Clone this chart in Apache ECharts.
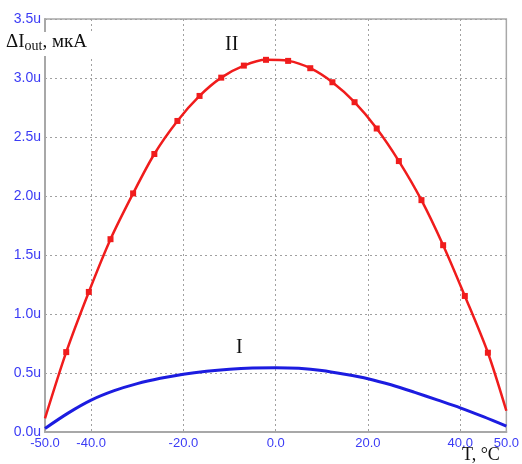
<!DOCTYPE html>
<html style="height: 100%">
<head>
	<meta charset="utf-8">
	<script src="https://cdn.jsdelivr.net/npm/echarts@6/dist/echarts.min.js"></script>
</head>
<body style="height: 100%; margin: 0; background: #fff">
	<div id="container" style="width: 522px; height: 464px"></div>
	<script type="text/javascript">
		// curve II (red, with markers), T in °C, dI in uA
		var tempII = [-50, -45.4, -40.5, -35.8, -30.9, -26.3, -21.3, -16.5, -11.8, -6.9, -2.1,
			2.7, 7.5, 12.3, 17.1, 21.9, 26.7, 31.6, 36.3, 41.0, 46.0, 50];
		var currII = [0.115, 0.677, 1.187, 1.634, 2.022, 2.356, 2.636, 2.848, 3.003, 3.105, 3.154,
			3.145, 3.083, 2.964, 2.795, 2.572, 2.296, 1.965, 1.583, 1.153, 0.672, 0.18];
		// curve I (blue)
		var tempI = [-50, -45, -40, -35, -30, -25, -20, -15, -10, -5, 0,
			5, 10, 15, 20, 25, 30, 35, 40, 45, 50];
		var currI = [0.03, 0.16, 0.27, 0.35, 0.41, 0.455, 0.49, 0.515, 0.532, 0.542, 0.545,
			0.54, 0.522, 0.49, 0.452, 0.40, 0.338, 0.272, 0.205, 0.13, 0.05];
		var xTicks = [-50, -40, -20, 0, 20, 40, 50];

		var dom = document.getElementById("container");
		var myChart = echarts.init(dom);

		var dataII = tempII.map(function(t, i) {
			var item = { value: [t, currII[i]] };
			if (i === 0 || i === tempII.length - 1) item.symbol = 'none';
			return item;
		});
		var dataI = tempI.map(function(t, i) {
			return [t, currI[i]];
		});

		var labelBlue = '#3b3bf5';
		var serif = '"Liberation Serif", "DejaVu Serif", serif';

		var option = {
			backgroundColor: '#ffffff',
			animation: false,
			grid: {
				left: 45,
				right: 9,
				top: 19,
				bottom: 32,
				show: true,
				borderColor: '#a8a8a8',
				borderWidth: 1.5
			},
			xAxis: {
				type: 'value',
				min: -50,
				max: 50,
				interval: 10,
				axisLine: { onZero: false, lineStyle: { color: '#a8a8a8', width: 2 } },
				axisTick: { show: false },
				axisLabel: {
					color: labelBlue,
					fontSize: 13,
					fontFamily: '"Liberation Sans", Arial, sans-serif',
					margin: 5,
					showMinLabel: true,
					showMaxLabel: true,
					formatter: function(v) {
						return xTicks.indexOf(v) >= 0 ? v.toFixed(1) : '';
					}
				},
				splitLine: {
					show: true,
					lineStyle: { color: ['rgba(0,0,0,0)', '#a0a0a0'], type: [2, 3], width: 1 }
				}
			},
			yAxis: {
				type: 'value',
				min: 0,
				max: 3.5,
				interval: 0.5,
				axisLine: { show: true, onZero: false, lineStyle: { color: '#a8a8a8', width: 2 } },
				axisTick: { show: false },
				axisLabel: {
					color: labelBlue,
					fontSize: 14,
					fontFamily: '"Liberation Sans", Arial, sans-serif',
					margin: 4,
					formatter: function(v) {
						return v.toFixed(1) + 'u';
					}
				},
				splitLine: {
					show: true,
					lineStyle: { color: '#a0a0a0', type: [2, 3], width: 1 }
				}
			},
			series: [{
				name: 'II',
				type: 'line',
				smooth: 0.3,
				data: dataII,
				symbol: 'rect',
				symbolSize: 6,
				lineStyle: { color: '#f01c1c', width: 2.5 },
				itemStyle: { color: '#f01c1c' },
				z: 3
			}, {
				name: 'I',
				type: 'line',
				smooth: 0.3,
				data: dataI,
				showSymbol: false,
				lineStyle: { color: '#1c1ce0', width: 3 },
				itemStyle: { color: '#1c1ce0' },
				z: 2
			}],
			graphic: [{
				type: 'rect',
				left: 4,
				top: 32,
				shape: { width: 92, height: 24 },
				style: { fill: '#ffffff' },
				z: 10
			}, {
				type: 'text',
				left: 6,
				top: 33,
				z: 11,
				style: {
					text: '{a|ΔI}{b|out}{a|, мкА}',
					rich: {
						a: { fontSize: 19, fontFamily: serif, fill: '#111' },
						b: { fontSize: 14, fontFamily: serif, fill: '#111', padding: [7, 0, 0, 0] }
					}
				}
			}, {
				type: 'text',
				left: 225,
				top: 35,
				z: 11,
				style: { text: 'II', fontSize: 20, fontFamily: serif, fill: '#111' }
			}, {
				type: 'text',
				left: 236,
				top: 338,
				z: 11,
				style: { text: 'I', fontSize: 20, fontFamily: serif, fill: '#111' }
			}, {
				type: 'text',
				left: 462,
				top: 446,
				z: 11,
				style: { text: 'T, °C', fontSize: 18, fontFamily: serif, fill: '#111' }
			}]
		};
		myChart.setOption(option, true);
	</script>
</body>
</html>
